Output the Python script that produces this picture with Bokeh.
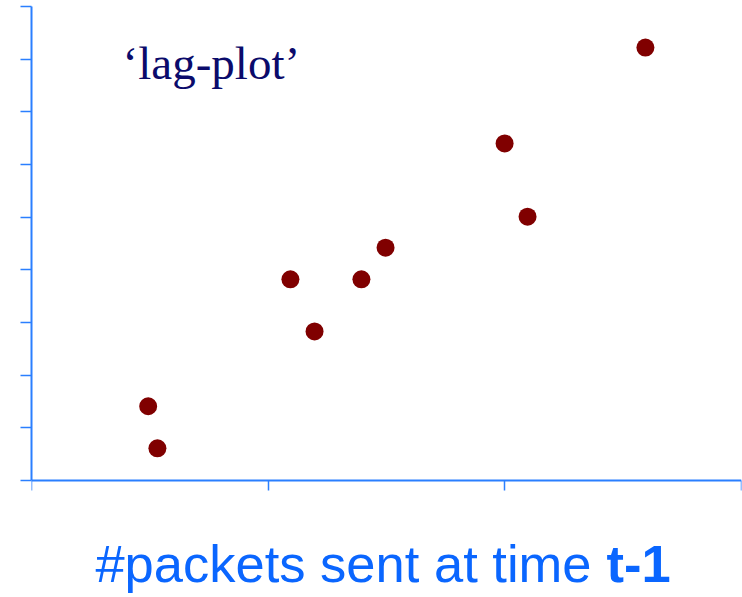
from bokeh.plotting import figure
from bokeh.models import Label, FixedTicker
from bokeh.embed import file_html
from bokeh.resources import INLINE

# data: #packets at t-1 (x) vs #packets at t (y)
x_prev = [4.93, 5.32, 10.94, 11.96, 13.94, 14.96, 19.99, 20.96, 25.94]
y_curr = [1.41, 0.61, 3.82, 2.83, 3.82, 4.42, 6.40, 5.01, 8.22]
x_ticks = [0, 10, 20, 30]
y_ticks = [0, 1, 2, 3, 4, 5, 6, 7, 8, 9]

AXIS = "#2a7fff"

p = figure(width=742, height=597, output_backend="svg", toolbar_location=None,
           x_range=(0, 30), y_range=(-2.2215, 9),
           min_border_left=31, min_border_right=1, min_border_top=6, min_border_bottom=0)
p.outline_line_color = None
p.grid.visible = False

for ax in (p.xaxis, p.yaxis):
    ax.axis_line_color = AXIS
    ax.axis_line_width = 2
    ax.major_tick_line_color = AXIS
    ax.major_tick_line_width = 1.5
    ax.major_tick_in = 0
    ax.minor_tick_line_color = None
    ax.major_label_text_font_size = "0px"
    ax.major_label_standoff = 0
p.xaxis.major_tick_out = 10
p.yaxis.major_tick_out = 11
p.xaxis.ticker = FixedTicker(ticks=x_ticks)
p.yaxis.ticker = FixedTicker(ticks=y_ticks)
p.xaxis.fixed_location = 0
p.yaxis.bounds = (0, 9)

p.scatter(x_prev, y_curr, size=18, color="#800000", line_color=None)

p.add_layout(Label(x=3.85, y=7.92, text="\u2018lag-plot\u2019", text_font="Liberation Serif",
                   text_font_size="47px", text_color="#0b0b6b", text_baseline="alphabetic"))
p.add_layout(Label(x=2.7, y=-1.58, text="#packets sent at time ", text_font="Liberation Sans",
                   text_font_size="52.5px", text_color="#0a66ff", text_baseline="alphabetic"))
p.add_layout(Label(x=24.3, y=-1.58, text="t-1", text_font="Liberation Sans", text_font_style="bold",
                   text_font_size="52.5px", text_color="#0a66ff", text_baseline="alphabetic"))

open("out.html", "w").write(file_html(p, INLINE))
